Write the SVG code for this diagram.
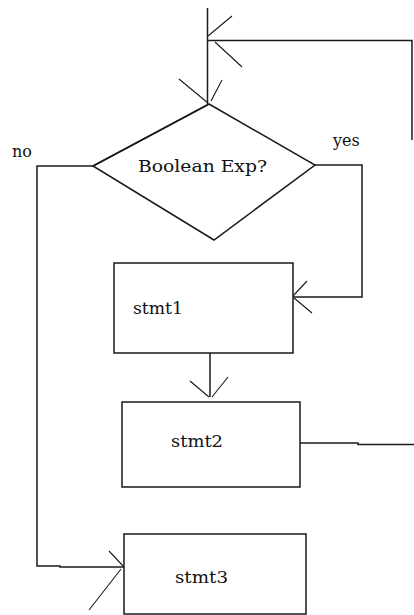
<svg xmlns="http://www.w3.org/2000/svg" width="414" height="615" viewBox="0 0 414 615">
<style>
.ln{fill:none;stroke:#1a1a1a;stroke-width:1.5}
.ah{fill:none;stroke:#1a1a1a;stroke-width:1.1}
.bx{fill:#fff;stroke:#1a1a1a;stroke-width:1.5}
text{font-family:'DejaVu Serif','Liberation Serif',serif;font-size:16px;fill:#111}
</style>
<rect width="414" height="615" fill="#fff"/>
<g id="connectors">
<path class="ln" d="M207.5 8 V104"/>
<path class="ln" d="M412 140 V40.5 H207.5"/>
<path class="ah" d="M232 16 L208 36 M215 42 L242 67"/>
<path class="ah" d="M179 79 L208 103 M222 80 L211 101"/>
<path class="ln" d="M93 166 H37 V566 H60 V567 H124"/>
<path class="ah" d="M109 551 L124 567 M89 610 L121 569"/>
<path class="ln" d="M315 165 H362 V297 H293"/>
<path class="ah" d="M307 281 L293 296 M312 313 L294 298"/>
<path class="ln" d="M210 353 V397"/>
<path class="ah" d="M190 381 L209 397 M228 377 L212 397"/>
<path class="ln" d="M300 443 H358 V444.5 H414"/>
</g>
<g id="decision">
<path class="bx" d="M209 104 L315 165 L214 240 L93 166 Z"/>
<path class="ln" d="M93 166 L209 104" stroke-width="2.4"/>
<text x="138" y="172" textLength="129" lengthAdjust="spacingAndGlyphs">Boolean Exp?</text>
</g>
<g id="label-no"><text x="12" y="157" font-size="14">no</text></g>
<g id="label-yes"><text x="333" y="146" font-size="14">yes</text></g>
<g id="stmt1">
<rect class="bx" x="114" y="263" width="179" height="90"/>
<text x="133" y="314" textLength="50" lengthAdjust="spacingAndGlyphs">stmt1</text>
</g>
<g id="stmt2">
<rect class="bx" x="122" y="402" width="178" height="85"/>
<text x="171" y="447" textLength="52" lengthAdjust="spacingAndGlyphs">stmt2</text>
</g>
<g id="stmt3">
<rect class="bx" x="124" y="534" width="182" height="80"/>
<text x="175" y="583" textLength="53" lengthAdjust="spacingAndGlyphs">stmt3</text>
</g>
</svg>
